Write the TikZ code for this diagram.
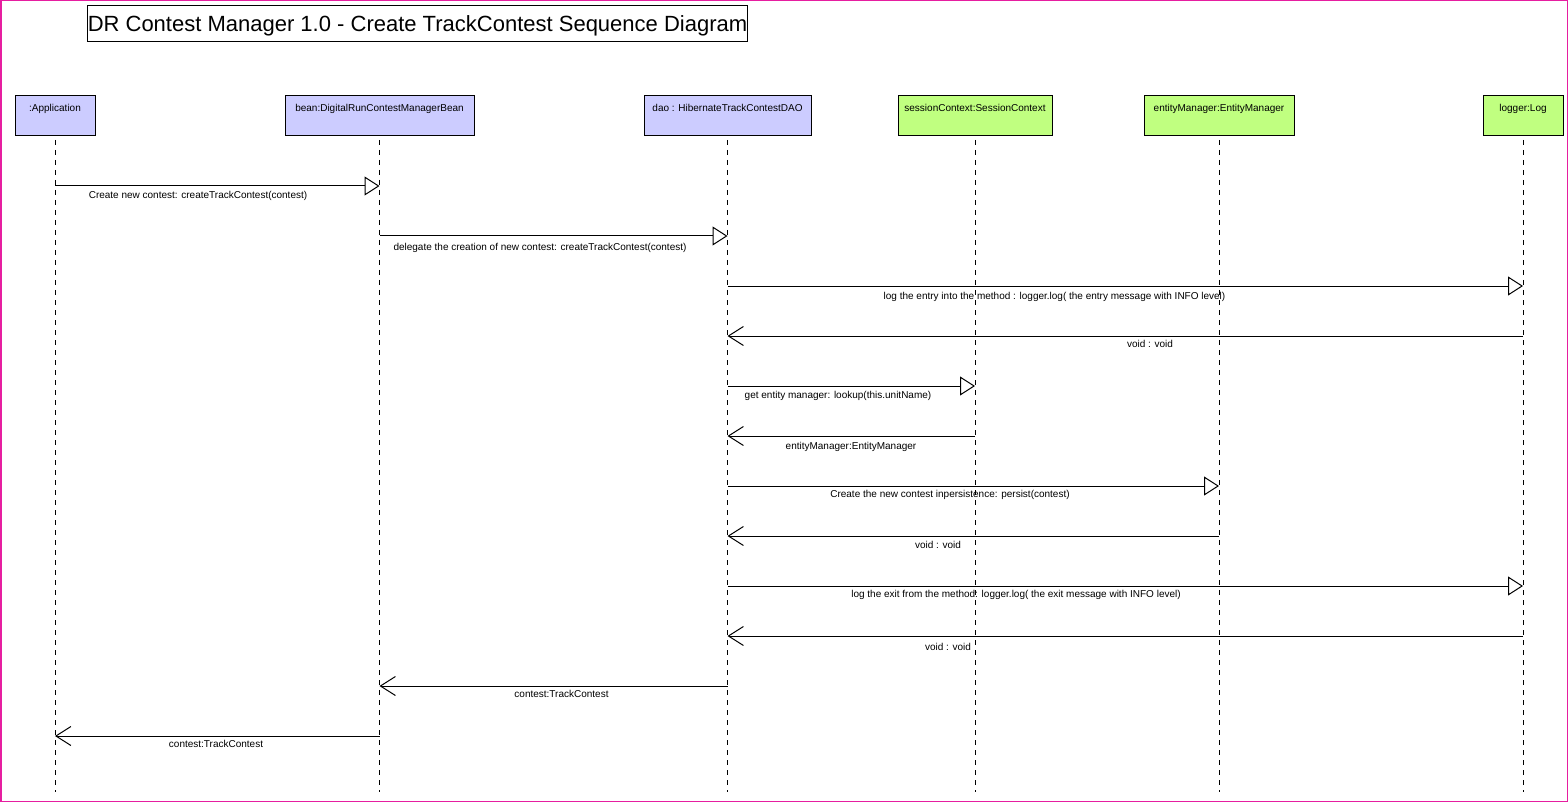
\documentclass[tikz,border=0pt]{standalone}
\usepackage{fontspec}
\setmainfont{Liberation Sans}
\usetikzlibrary{arrows.meta}
\definecolor{objblue}{RGB}{204,204,255}
\definecolor{objgreen}{RGB}{192,255,128}
\definecolor{framepink}{RGB}{230,30,160}
\tikzset{
  obj/.style={draw, line width=0.5pt, minimum width=#1*0.5pt, minimum height=20pt, inner sep=0pt},
  blueobj/.style={obj=#1, fill=objblue},
  greenobj/.style={obj=#1, fill=objgreen},
  hdr/.style={font=\fontsize{5pt}{6pt}\selectfont, anchor=center, yshift=-4.6pt, inner sep=0pt, text height=0.72em, text depth=0pt},
  lifeline/.style={line width=0.5pt, dash pattern=on 2.5pt off 2.5pt},
  call/.style={line width=0.5pt, -{Triangle[open, fill=white, length=7.5pt, width=9.5pt]}},
  ret/.style={line width=0.5pt, -{Straight Barb[length=7.5pt, width=9.5pt]}},
  lbl/.style={font=\fontsize{5pt}{6pt}\selectfont, inner sep=0pt, text height=0.72em, text depth=0pt, yshift=1.4pt},
  titlebox/.style={draw, line width=0.5pt, minimum width=329.5pt, minimum height=18pt, inner sep=0pt, font=\fontsize{11pt}{13pt}\selectfont, text height=0.72em, text depth=0pt}
}
\begin{document}
\begin{tikzpicture}[x=0.5pt,y=-0.5pt]
\useasboundingbox (0,0) rectangle (1568,802);
\fill[white] (0,0) rectangle (1568,802);
\draw[framepink, line width=0.75pt] (0.75,0.75) rectangle (1567.25,801.25);

\node[titlebox] (title) at (417.5,24) {DR Contest Manager 1.0 - Create TrackContest Sequence Diagram};

\node[blueobj=80, label={[hdr]north::Application}] (app) at (55,116) {};
\node[blueobj=189, label={[hdr]north:bean:DigitalRunContestManagerBean}] (bean) at (379.5,116) {};
\node[blueobj=167, label={[hdr]north:dao : HibernateTrackContestDAO}] (dao) at (727.5,116) {};
\node[greenobj=154, label={[hdr]north:sessionContext:SessionContext}] (sess) at (975,116) {};
\node[greenobj=150, label={[hdr]north:entityManager:EntityManager}] (em) at (1219,116) {};
\node[greenobj=80, label={[hdr]north:logger:Log}] (log) at (1523,116) {};

\foreach \o in {app,bean,dao,sess,em,log}
  \draw[lifeline] (\o |- 0,140) -- (\o |- 0,792);

\draw[call] (app |- 0,186) -- (bean |- 0,186);
\node[lbl] (l1) at (198,194.5) {Create new contest: createTrackContest(contest)};
\draw[call] (bean |- 0,236) -- (dao |- 0,236);
\node[lbl] (l2) at (540,246.5) {delegate the creation of new contest: createTrackContest(contest)};
\draw[call] (dao |- 0,286) -- (log |- 0,286);
\node[lbl] (l3) at (1054.5,295.5) {log the entry into the method : logger.log( the entry message with INFO level)};
\draw[ret] (log |- 0,336) -- (dao |- 0,336);
\node[lbl] (l4) at (1150,343) {void : void};
\draw[call] (dao |- 0,386) -- (sess |- 0,386);
\node[lbl] (l5) at (838,394.5) {get entity manager: lookup(this.unitName)};
\draw[ret] (sess |- 0,436) -- (dao |- 0,436);
\node[lbl] (l6) at (851,445.5) {entityManager:EntityManager};
\draw[call] (dao |- 0,486) -- (em |- 0,486);
\node[lbl] (l7) at (950,493.5) {Create the new contest inpersistence: persist(contest)};
\draw[ret] (em |- 0,536) -- (dao |- 0,536);
\node[lbl] (l8) at (938,544.5) {void : void};
\draw[call] (dao |- 0,586) -- (log |- 0,586);
\node[lbl] (l9) at (1016,593) {log the exit from the method: logger.log( the exit message with INFO level)};
\draw[ret] (log |- 0,636) -- (dao |- 0,636);
\node[lbl] (l10) at (948,646.5) {void : void};
\draw[ret] (dao |- 0,686) -- (bean |- 0,686);
\node[lbl] (l11) at (561.5,693.5) {contest:TrackContest};
\draw[ret] (bean |- 0,736) -- (app |- 0,736);
\node[lbl] (l12) at (216,743.5) {contest:TrackContest};
\end{tikzpicture}
\end{document}
